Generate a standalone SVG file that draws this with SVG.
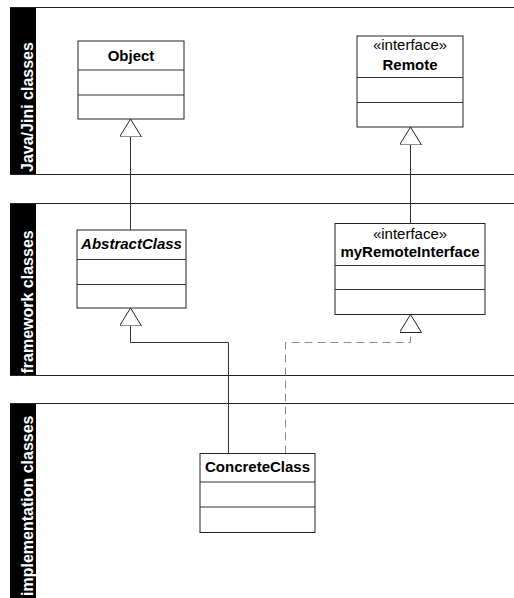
<svg xmlns="http://www.w3.org/2000/svg" width="514" height="598" viewBox="0 0 514 598">
  <style>
    .lane-bar { fill: #000; }
    .lane-line { stroke: #222; stroke-width: 1; fill: none; }
    .lane-label { font-family: "Liberation Sans", Arial, sans-serif; font-size: 16px; font-weight: bold; fill: #fff; }
    .box { fill: #fff; stroke: #222; stroke-width: 1; }
    .div { stroke: #333; stroke-width: 1; }
    .name { font-family: "Liberation Sans", Arial, sans-serif; font-size: 15px; font-weight: bold; fill: #000; text-anchor: middle; }
    .abstract { font-style: italic; }
    .stereo { font-family: "Liberation Sans", Arial, sans-serif; font-size: 15px; fill: #000; text-anchor: middle; }
    .gen { stroke: #333; stroke-width: 1; fill: none; }
    .real { stroke: #888; stroke-width: 1; fill: none; stroke-dasharray: 8 5; }
  </style>
  <defs>
    <marker id="hollow" viewBox="0 0 18 22" refX="18" refY="11" markerWidth="18" markerHeight="22" markerUnits="userSpaceOnUse" orient="auto">
      <path d="M18,11 L0,0 L0,22 Z" fill="#fff" stroke="#222" stroke-width="1" stroke-dasharray="none"/>
    </marker>
  </defs>

  <rect width="514" height="598" fill="#fff"/>

  <!-- swimlanes -->
  <g id="lane-java">
    <rect class="lane-bar" x="10" y="7.5" width="26" height="167"/>
    <line class="lane-line" x1="10" y1="7.5" x2="514" y2="7.5"/>
    <line class="lane-line" x1="10" y1="174.5" x2="514" y2="174.5"/>
    <text class="lane-label" transform="translate(33,172) rotate(-90)">Java/Jini classes</text>
  </g>
  <g id="lane-framework">
    <rect class="lane-bar" x="10" y="203.5" width="26" height="172"/>
    <line class="lane-line" x1="10" y1="203.5" x2="514" y2="203.5"/>
    <line class="lane-line" x1="10" y1="375.5" x2="514" y2="375.5"/>
    <text class="lane-label" transform="translate(33,373.5) rotate(-90)">framework classes</text>
  </g>
  <g id="lane-impl">
    <rect class="lane-bar" x="10" y="403.5" width="26" height="195"/>
    <line class="lane-line" x1="10" y1="403.5" x2="514" y2="403.5"/>
    <text class="lane-label" transform="translate(33,596) rotate(-90)">implementation classes</text>
  </g>

  <!-- connectors -->
  <g id="connectors">
    <path class="gen" d="M130.5,230 L130.5,119" marker-end="url(#hollow)"/>
    <path class="gen" d="M410.5,223.5 L410.5,127" marker-end="url(#hollow)"/>
    <path class="gen" d="M228.5,453.5 L228.5,342.5 L130.5,342.5 L130.5,308" marker-end="url(#hollow)"/>
    <path class="real" d="M285.5,453.5 L285.5,342.5 L410.5,342.5 L410.5,314.5" marker-end="url(#hollow)"/>
  </g>

  <!-- classes -->
  <g id="Object">
    <rect class="box" x="78" y="41" width="106" height="78"/>
    <line class="div" x1="78" y1="70" x2="184" y2="70"/>
    <line class="div" x1="78" y1="95" x2="184" y2="95"/>
    <text class="name" x="131" y="60.5">Object</text>
  </g>
  <g id="Remote">
    <rect class="box" x="357" y="36" width="106" height="91"/>
    <line class="div" x1="357" y1="77.5" x2="463" y2="77.5"/>
    <line class="div" x1="357" y1="102.5" x2="463" y2="102.5"/>
    <text class="stereo" x="410" y="50">«interface»</text>
    <text class="name" x="410" y="69.5">Remote</text>
  </g>
  <g id="AbstractClass">
    <rect class="box" x="77" y="230" width="109" height="78"/>
    <line class="div" x1="77" y1="259.5" x2="186" y2="259.5"/>
    <line class="div" x1="77" y1="284.5" x2="186" y2="284.5"/>
    <text class="name abstract" x="131.5" y="248.5">AbstractClass</text>
  </g>
  <g id="myRemoteInterface">
    <rect class="box" x="335" y="223.5" width="150" height="91"/>
    <line class="div" x1="335" y1="265.5" x2="485" y2="265.5"/>
    <line class="div" x1="335" y1="289.5" x2="485" y2="289.5"/>
    <text class="stereo" x="410" y="238.5">«interface»</text>
    <text class="name" x="410" y="257">myRemoteInterface</text>
  </g>
  <g id="ConcreteClass">
    <rect class="box" x="200" y="453.5" width="115" height="79"/>
    <line class="div" x1="200" y1="482" x2="315" y2="482"/>
    <line class="div" x1="200" y1="507" x2="315" y2="507"/>
    <text class="name" x="257.5" y="472">ConcreteClass</text>
  </g>
</svg>
